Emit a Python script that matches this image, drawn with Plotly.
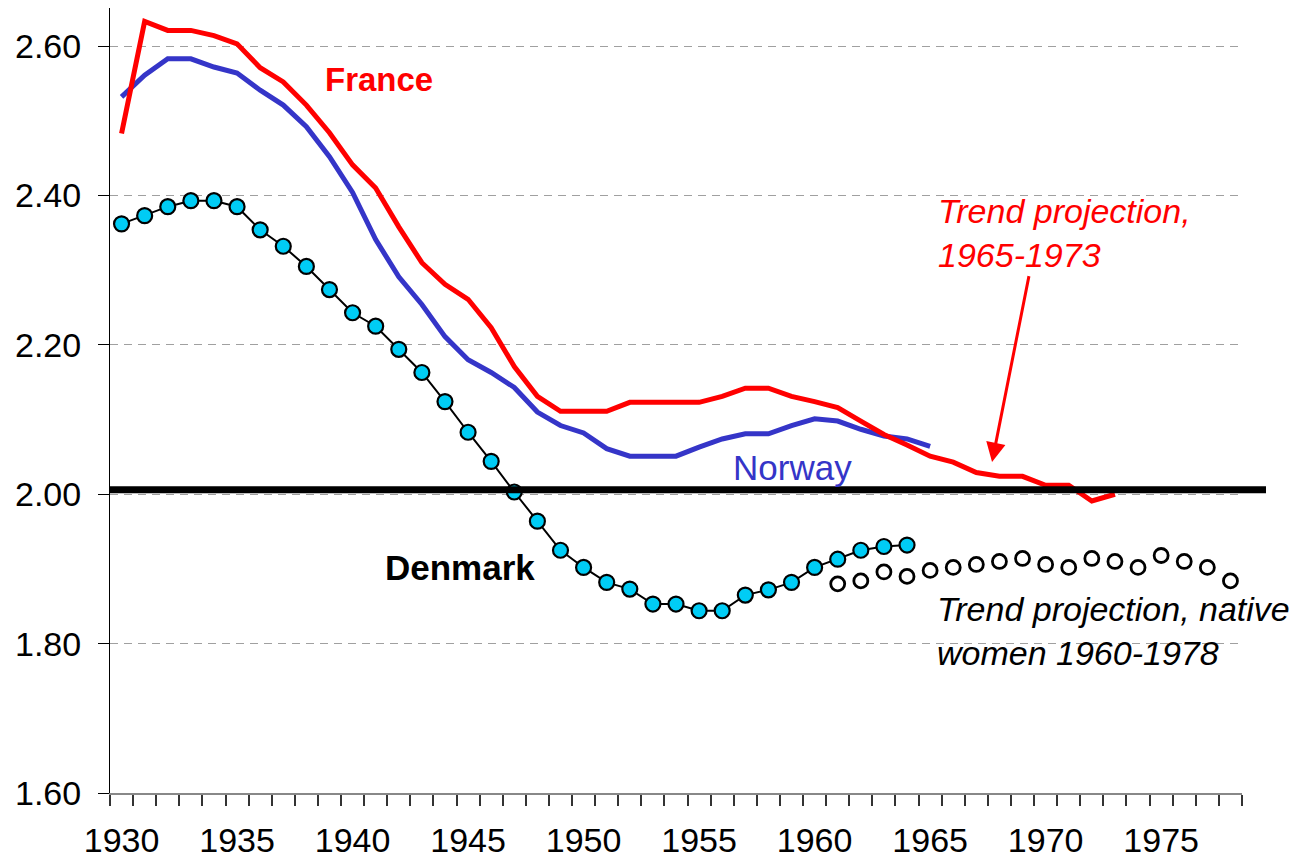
import plotly.graph_objects as go

# ---------------- data ----------------
years_france = list(range(1930, 1974))
france = [2.483, 2.633, 2.621, 2.621, 2.614, 2.603, 2.571, 2.552, 2.521, 2.484,
          2.441, 2.410, 2.358, 2.310, 2.281, 2.261, 2.223, 2.171, 2.131, 2.111,
          2.111, 2.111, 2.123, 2.123, 2.123, 2.123, 2.131, 2.142, 2.142, 2.131,
          2.124, 2.116, 2.098, 2.080, 2.066, 2.051, 2.043, 2.029, 2.024, 2.024,
          2.012, 2.012, 1.991, 2.000]

years_norway = list(range(1930, 1966))
norway = [2.532, 2.561, 2.583, 2.583, 2.572, 2.564, 2.541, 2.521, 2.492, 2.452,
          2.404, 2.341, 2.291, 2.254, 2.211, 2.180, 2.163, 2.143, 2.110, 2.092,
          2.082, 2.061, 2.051, 2.051, 2.051, 2.063, 2.074, 2.081, 2.081, 2.092,
          2.101, 2.098, 2.087, 2.078, 2.074, 2.064]

years_denmark = list(range(1930, 1965))
denmark = [2.362, 2.373, 2.385, 2.393, 2.393, 2.385, 2.354, 2.332, 2.305, 2.274,
           2.243, 2.225, 2.194, 2.163, 2.124, 2.083, 2.044, 2.003, 1.964, 1.925,
           1.902, 1.882, 1.873, 1.853, 1.853, 1.844, 1.844, 1.865, 1.872, 1.882,
           1.902, 1.913, 1.925, 1.930, 1.932]

years_projection = list(range(1961, 1979))
denmark_projection = [1.880, 1.884, 1.896, 1.890, 1.898, 1.902, 1.906, 1.910, 1.914,
                      1.906, 1.902, 1.914, 1.910, 1.902, 1.918, 1.910, 1.902, 1.884]

REPLACEMENT_LEVEL = 2.006
year_labels = list(range(1930, 1980, 5))
y_ticks = [1.60, 1.80, 2.00, 2.20, 2.40, 2.60]

FONT = "Arial, Liberation Sans, sans-serif"

fig = go.Figure()

fig.add_trace(go.Scatter(
    x=years_norway, y=norway, mode="lines",
    line=dict(color="#3535c8", width=5), name="Norway"))
fig.add_trace(go.Scatter(
    x=years_france, y=france, mode="lines",
    line=dict(color="#ff0000", width=5), name="France"))
fig.add_trace(go.Scatter(
    x=years_denmark, y=denmark, mode="lines+markers",
    line=dict(color="black", width=2),
    marker=dict(size=15, color="#00ccf5", line=dict(color="black", width=2.2)),
    name="Denmark"))
fig.add_trace(go.Scatter(
    x=years_projection, y=denmark_projection, mode="markers",
    marker=dict(size=14, color="white", line=dict(color="black", width=2.8)),
    name="Denmark projection"))

# replacement-level line (extends slightly beyond plot area)
fig.add_shape(type="line", xref="paper", yref="y",
              x0=0, x1=1.0212, y0=REPLACEMENT_LEVEL, y1=REPLACEMENT_LEVEL,
              line=dict(color="black", width=7), layer="above")

# text labels
fig.add_annotation(x=1938.72, y=2.555, xref="x", yref="y", text="<b>France</b>",
                   showarrow=False, xanchor="left", yanchor="middle",
                   font=dict(family=FONT, size=33, color="#ff0000"))
fig.add_annotation(x=1956.39, y=2.036, xref="x", yref="y", text="Norway",
                   showarrow=False, xanchor="left", yanchor="middle",
                   font=dict(family=FONT, size=35, color="#3535c8"))
fig.add_annotation(x=1941.32, y=1.902, xref="x", yref="y", text="<b>Denmark</b>",
                   showarrow=False, xanchor="left", yanchor="middle",
                   font=dict(family=FONT, size=35, color="black"))
fig.add_annotation(x=1965.26, y=2.350, xref="x", yref="y",
                   text="<i>Trend projection,</i><br><i>1965-1973</i>",
                   showarrow=False, xanchor="left", yanchor="middle", align="left",
                   font=dict(family=FONT, size=34, color="#ff0000"))
fig.add_annotation(x=1965.22, y=1.817, xref="x", yref="y",
                   text="<i>Trend projection, native</i><br><i>women 1960-1978</i>",
                   showarrow=False, xanchor="left", yanchor="middle", align="left",
                   font=dict(family=FONT, size=34, color="black"))
# arrow
fig.add_annotation(x=1967.68, y=2.043, ax=1969.29, ay=2.294,
                   xref="x", yref="y", axref="x", ayref="y", text="",
                   showarrow=True, arrowhead=2, arrowsize=1.3, arrowwidth=3,
                   arrowcolor="#ff0000", standoff=0)

# the page body adds an 8px offset; margins compensate for it
fig.update_layout(
    width=1301, height=859,
    margin=dict(l=102, r=67, t=0, b=74),
    paper_bgcolor="white", plot_bgcolor="white",
    showlegend=False,
    font=dict(family=FONT, color="black"),
)

fig.update_xaxes(
    type="linear", range=[1929.5, 1978.5],
    tickmode="array", tickvals=year_labels, ticks="",
    tickfont=dict(family=FONT, size=34, color="black"),
    ticklabelstandoff=16,
    showline=True, linecolor="#888888", linewidth=2,
    showgrid=False, zeroline=False, automargin=False,
    minor=dict(tickmode="linear", tick0=1929.5, dtick=1, ticks="outside",
               ticklen=11, tickwidth=2, tickcolor="#333333", showgrid=False),
)
fig.update_yaxes(
    range=[1.6, 2.651],
    tickmode="array", tickvals=y_ticks, tickformat=".2f",
    ticks="outside", ticklen=11, tickcolor="black", tickwidth=1,
    tickfont=dict(family=FONT, size=34, color="black"),
    ticklabelstandoff=10,
    showline=True, linecolor="black", linewidth=1,
    showgrid=True, gridcolor="#a0a0a0", gridwidth=1, griddash="8px,6px",
    zeroline=False, automargin=False,
)

fig.write_html("out.html")
